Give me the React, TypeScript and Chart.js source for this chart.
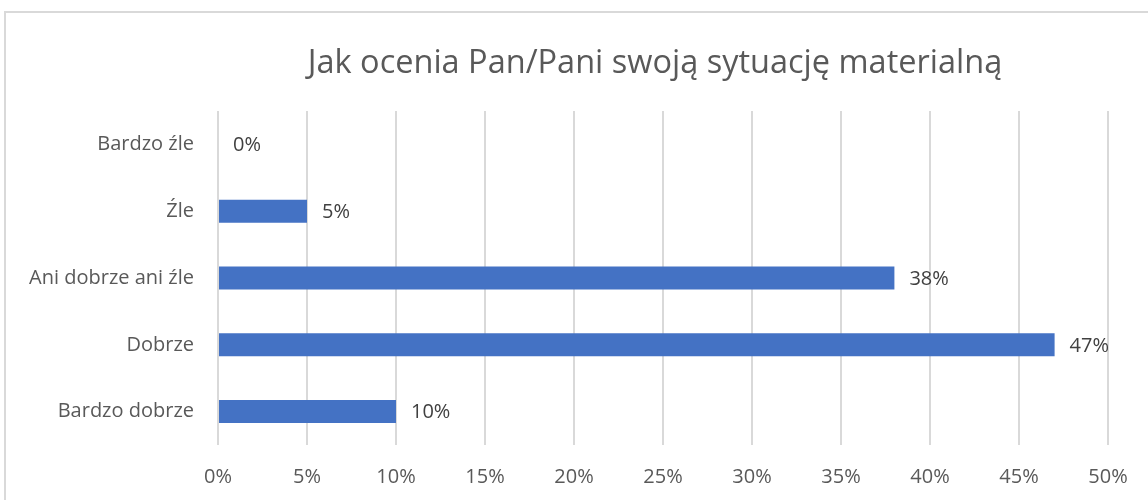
import React, { useEffect, useRef } from "react";
import { Chart, registerables } from "chart.js";

Chart.register(...registerables);

const TITLE = "Jak ocenia Pan/Pani swoją sytuację materialną";
const categories = ["Bardzo źle", "Źle", "Ani dobrze ani źle", "Dobrze", "Bardzo dobrze"];
const values = [0, 5, 38, 47, 10];
const xTicks = [0, 5, 10, 15, 20, 25, 30, 35, 40, 45, 50];

const FONT = "'Open Sans', 'DejaVu Sans', sans-serif";

const dataLabels = {
  id: "dataLabels",
  afterDatasetsDraw(chart: any) {
    const ctx = chart.ctx;
    const meta = chart.getDatasetMeta(0);
    ctx.save();
    ctx.font = `20px ${FONT}`;
    ctx.fillStyle = "#404040";
    ctx.textAlign = "left";
    ctx.textBaseline = "middle";
    meta.data.forEach((bar: any, i: number) => {
      ctx.fillText(values[i] + "%", bar.x + 15, bar.y + 1);
    });
    ctx.restore();
  },
};

const titlePlugin = {
  id: "customTitle",
  afterDraw(chart: any) {
    const ctx = chart.ctx;
    const area = chart.chartArea;
    ctx.save();
    ctx.font = `32.5px ${FONT}`;
    ctx.fillStyle = "#595959";
    ctx.textAlign = "center";
    ctx.textBaseline = "alphabetic";
    ctx.fillText(TITLE, (area.left + area.right) / 2 - 8, area.top - 38);
    ctx.restore();
  },
};

export default function App() {
  const ref = useRef<HTMLCanvasElement>(null);
  useEffect(() => {
    if (!ref.current) return;
    const chart = new Chart(ref.current, {
      type: "bar",
      data: {
        labels: categories,
        datasets: [
          {
            data: values,
            backgroundColor: "#4472C4",
            borderWidth: 0,
            barPercentage: 0.345,
            categoryPercentage: 1,
          },
        ],
      },
      options: {
        indexAxis: "y",
        animation: false,
        responsive: false,
        maintainAspectRatio: false,
        layout: { padding: { left: 0, right: 40, top: 111, bottom: 0 } },
        plugins: {
          legend: { display: false },
          tooltip: { enabled: false },
          title: { display: false },
        },
        scales: {
          x: {
            min: 0,
            max: 50,
            afterBuildTicks(scale: any) {
              scale.ticks = xTicks.map((v) => ({ value: v }));
            },
            afterFit(scale: any) {
              scale.height = 55;
            },
            grid: { color: "#d9d9d9", lineWidth: 2, drawTicks: false },
            border: { display: false },
            ticks: {
              padding: 20,
              color: "#595959",
              font: { family: FONT, size: 20 },
              callback: (v: any) => v + "%",
            },
          },
          y: {
            afterFit(scale: any) {
              scale.width = 218;
            },
            grid: { display: false },
            border: { display: false },
            ticks: {
              padding: 16,
              color: "#595959",
              font: { family: FONT, size: 20 },
            },
          },
        },
      },
      plugins: [dataLabels, titlePlugin],
    });
    return () => chart.destroy();
  }, []);

  return (
    <div
      style={{
        position: "fixed",
        left: 0,
        top: 0,
        width: 1148,
        height: 500,
        overflow: "hidden",
        background: "#fff",
      }}
    >
      <div
        style={{
          position: "absolute",
          left: 4,
          top: 11,
          width: 1200,
          height: 600,
          borderTop: "2px solid #d9d9d9",
          borderLeft: "2px solid #d9d9d9",
        }}
      />
      <canvas
        ref={ref}
        width={1148}
        height={500}
        style={{ position: "absolute", left: 0, top: 0, width: 1148, height: 500 }}
      />
    </div>
  );
}
